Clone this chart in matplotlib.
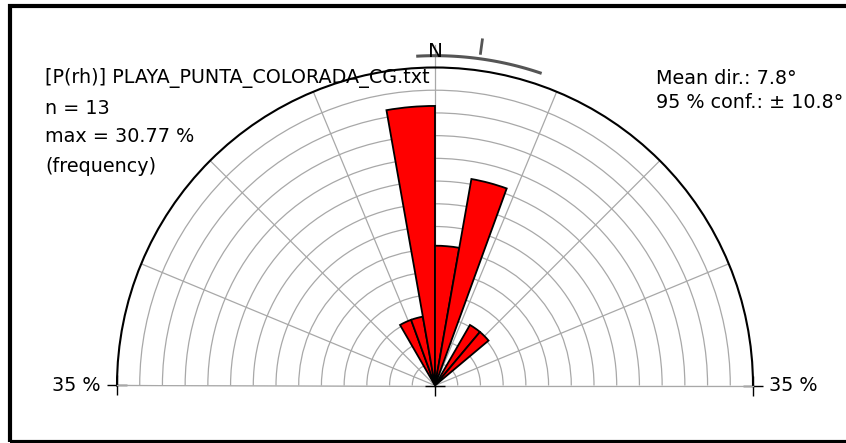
import numpy as np
import matplotlib
matplotlib.use("Agg")
import matplotlib.pyplot as plt
from matplotlib.patches import Rectangle

# bins (compass degrees, left edge) and counts
bin_edges = [-30, -20, -10, 0, 10, 30, 40]
counts = [1, 1, 4, 2, 3, 1, 1]
bin_width = 10
n = sum(counts)
mean_dir = 7.8
conf = 10.8
r_max = 35
ring_step = 2.5
spoke_step = 22.5

W, H = 846, 443
fig = plt.figure(figsize=(W / 100, H / 100), dpi=100)

# frame around the figure (right side cut off)
fig.patches.append(Rectangle((10 / W, 1.5 / H), 1.2, (H - 7) / H, transform=fig.transFigure,
                             fill=False, edgecolor="black", linewidth=3))

# polar axes box is square; the half disc sits in its middle band
cx, cy, R = 435, 386, 318
base_y = H - cy + 0.5
ax = fig.add_axes([(cx - R) / W, (base_y + R / 2 - R) / H, 2 * R / W, 2 * R / H], projection="polar")
ax.set_theta_zero_location("N")
ax.set_theta_direction(-1)
ax.set_thetamin(-90)
ax.set_thetamax(90)
ax.set_ylim(0, r_max)

freq = np.array(counts) / n * 100
theta = np.deg2rad(np.array(bin_edges) + bin_width / 2)
ax.bar(theta, freq, width=np.deg2rad(bin_width), color="red", edgecolor="black",
       linewidth=1.3, zorder=3)

grid_col = "#a8a8a8"
ax.set_rticks(np.arange(ring_step, r_max, ring_step))
ax.set_yticklabels([])
ax.set_thetagrids(np.arange(-90, 90.1, spoke_step), labels=[])
ax.grid(color=grid_col, linewidth=0.9)
ax.tick_params(axis="both", which="both", length=0)
ax.spines["polar"].set_color("black")
ax.spines["polar"].set_linewidth(1.5)
for s in ("start", "end"):
    ax.spines[s].set_color(grid_col)
    ax.spines[s].set_linewidth(0.9)
ax.spines["inner"].set_visible(False)

fs = 13.8

# north line extension and label
ax.plot([0, 0], [r_max, 37.5], color=grid_col, lw=0.9, clip_on=False)
ax.text(0, 36.8, "N", ha="center", va="center", fontsize=fs + 0.5)

# tick crosses at ends and centre
for t in (-90, 90):
    ax.plot(np.deg2rad(t), r_max, marker="+", color="black", ms=14.5, mew=1.0, clip_on=False)
ax.plot(0, 0, marker="+", color="black", ms=14.5, mew=1.0, clip_on=False, zorder=4)
ax.text(np.deg2rad(-90), r_max + 1.8, "35 %", ha="right", va="center", fontsize=fs)
ax.text(np.deg2rad(90), r_max + 1.8, "35 %", ha="left", va="center", fontsize=fs)

# confidence arc and mean direction marker
arc = np.deg2rad(np.linspace(mean_dir - conf, mean_dir + conf, 60))
ax.plot(arc, np.full(arc.size, 36.3), color="#555555", lw=2.2, clip_on=False)
ax.plot([np.deg2rad(mean_dir)] * 2, [36.9, 38.4], color="#555555", lw=2.0, clip_on=False)

fig.text(45 / W, 1 - 78 / H, "[P(rh)] PLAYA_PUNTA_COLORADA_CG.txt", fontsize=fs, va="center")
fig.text(45 / W, 1 - 109 / H, f"n = {n}", fontsize=fs, va="center")
fig.text(45 / W, 1 - 136 / H, f"max = {freq.max():.2f} %", fontsize=fs, va="center")
fig.text(45 / W, 1 - 166 / H, "(frequency)", fontsize=fs, va="center")
fig.text(656 / W, 1 - 78 / H, f"Mean dir.: {mean_dir}°", fontsize=fs, va="center")
fig.text(656 / W, 1 - 103 / H, f"95 % conf.: ± {conf}°", fontsize=fs, va="center")

fig.savefig("out.png", dpi=100)
